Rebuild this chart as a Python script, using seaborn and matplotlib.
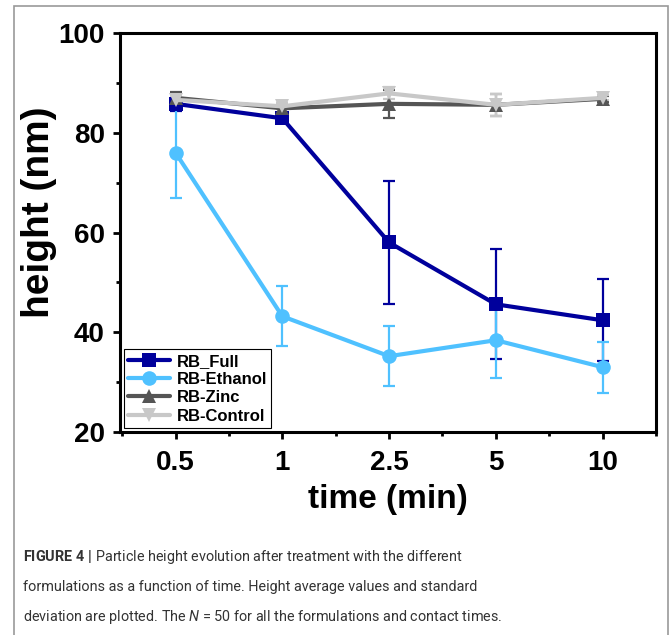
import matplotlib
matplotlib.use("Agg")
import matplotlib.pyplot as plt
import matplotlib.patches as patches
import numpy as np
import pandas as pd
import seaborn as sns

# values
times = ["0.5", "1", "2.5", "5", "10"]
formulations = ["RB_Full", "RB-Ethanol", "RB-Zinc", "RB-Control"]

full_mean = [85.8, 82.9, 58.0, 45.6, 42.4]
full_sd = [1.5, 1.0, 12.4, 11.0, 8.2]
ethanol_mean = [76.0, 43.2, 35.2, 38.4, 33.0]
ethanol_sd = [9.0, 6.0, 6.0, 7.6, 5.1]
zinc_mean = [87.0, 84.9, 85.8, 85.6, 86.8]
zinc_sd = [1.2, 1.0, 2.8, 2.2, 0.6]
control_mean = [86.6, 85.3, 87.9, 85.6, 87.0]
control_sd = [0.8, 0.6, 1.2, 2.2, 0.5]

colors = ["#00009c", "#4fc1ff", "#555555", "#c8c8c8"]
markers = ["s", "o", "^", "v"]

df = pd.DataFrame({
    "time": times * 4,
    "height": full_mean + ethanol_mean + zinc_mean + control_mean,
    "sd": full_sd + ethanol_sd + zinc_sd + control_sd,
    "formulation": np.repeat(formulations, len(times)),
})

sns.set_style("ticks")
plt.rcParams["font.family"] = ["Liberation Sans", "DejaVu Sans"]
plt.rcParams["text.color"] = "black"
plt.rcParams["axes.labelcolor"] = "black"
plt.rcParams["xtick.color"] = "black"
plt.rcParams["ytick.color"] = "black"
plt.rcParams["mathtext.fontset"] = "custom"
plt.rcParams["mathtext.bf"] = "Roboto:bold"
plt.rcParams["mathtext.it"] = "Roboto:italic"
plt.rcParams["mathtext.rm"] = "Roboto"

fig = plt.figure(figsize=(6.69, 6.35), dpi=100)
ax = fig.add_axes([0.1794, 0.3197, 0.8012, 0.6283])

# error bars first, then lines with markers
for f, c in zip(formulations, colors):
    d = df[df["formulation"] == f]
    ax.errorbar(d["time"], d["height"], yerr=d["sd"], fmt="none",
                ecolor=c, elinewidth=1.6, capsize=4, capthick=1.6, zorder=2)

sns.lineplot(data=df, x="time", y="height", hue="formulation",
             style="formulation", hue_order=formulations,
             style_order=formulations, palette=colors,
             markers=markers, dashes=False, linewidth=3,
             markersize=10.5, markeredgewidth=0, ax=ax, zorder=3,
             sort=False)

ax.set_ylim(20, 100)
ax.set_xlim(-0.52, 4.5)
ax.set_yticks([20, 40, 60, 80, 100])
ax.set_yticks([30, 50, 70, 90], minor=True)
ax.set_xticks(np.arange(-0.5, 4.6, 1.0), minor=True)
ax.set_xlabel("time (min)", fontsize=24, fontweight="bold", labelpad=6)
ax.set_ylabel("height (nm)", fontsize=28, fontweight="bold")
ax.yaxis.set_label_coords(-0.118, 0.551)
ax.tick_params(axis="x", which="major", labelsize=20, width=2,
               length=5, direction="out", pad=8)
ax.tick_params(axis="y", which="major", labelsize=20, width=2,
               length=5, direction="out", pad=6)
ax.tick_params(axis="both", which="minor", width=2, length=3,
               direction="out")
for lab in ax.get_xticklabels() + ax.get_yticklabels():
    lab.set_fontweight("bold")
for sp in ax.spines.values():
    sp.set_linewidth(2.2)
    sp.set_color("black")

leg = ax.legend(loc="lower left", bbox_to_anchor=(0.0, 0.0), frameon=True,
                fancybox=False, framealpha=1, edgecolor="black",
                prop={"weight": "bold", "size": 12}, handlelength=2.5,
                borderpad=0.25, labelspacing=0.2, handletextpad=0.4,
                borderaxespad=0.25, title=None)
leg.get_frame().set_linewidth(0.8)
for h in leg.legend_handles:
    h.set_markersize(10.5)

# outer panel frame
fig.patches.append(patches.Rectangle((14 / 669, -0.05), 654 / 669, 1.05 - 6 / 635,
                                     transform=fig.transFigure, fill=False,
                                     edgecolor="#999999", linewidth=1.2))

cap_font = ["Roboto", "DejaVu Sans"]
lines = [
    r"$\mathbf{FIGURE\ 4\ |}$ Particle height evolution after treatment with the different",
    "formulations as a function of time. Height average values and standard",
    r"deviation are plotted. The $N$ = 50 for all the formulations and contact times.",
]
for i, t in enumerate(lines):
    fig.text(23 / 669, 1 - (557 + 30 * i) / 635, t, fontsize=10.4,
             family=cap_font, fontweight="normal", color="#333333",
             va="center", ha="left")

fig.savefig("out.png", dpi=100)
